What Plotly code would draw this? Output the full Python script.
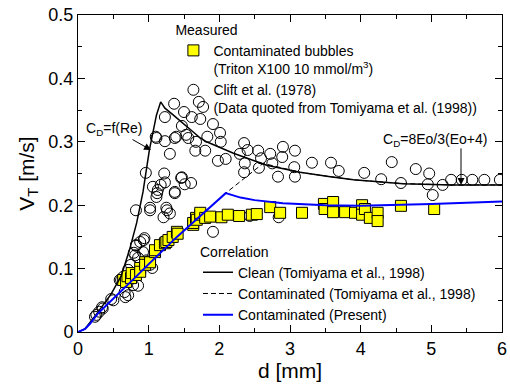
import plotly.graph_objects as go

# ---------------- data ----------------
# Clift et al. (1978) measured terminal velocities (open circles)
clift_d = [0.24, 0.26, 0.30, 0.34, 0.35, 0.47, 0.50, 0.59, 0.61, 0.64, 0.66, 0.67, 0.71, 0.71, 0.75, 0.76,
           0.78, 0.79, 0.81, 0.82, 0.82, 0.85, 0.85, 0.88, 0.92, 0.93, 0.94, 0.97, 0.99, 1.02, 1.05,
           0.82, 0.96, 1.02, 1.02, 1.06, 1.11, 1.12, 1.13, 1.17, 1.21, 1.22, 1.23, 1.25, 1.26, 1.30,
           1.37, 1.37, 1.46, 1.47, 1.51, 1.60, 1.10, 1.11, 1.23, 1.23, 1.30, 1.36, 1.37, 1.39, 1.47,
           1.50, 1.53, 1.56, 1.61, 1.66, 1.67, 1.71, 1.73, 1.77, 1.80, 1.83, 1.91, 1.98, 2.01, 2.02,
           2.09, 2.29, 2.35, 2.35, 2.36, 2.40, 2.43, 2.55, 2.56, 2.59, 2.72, 2.75, 2.83, 2.84, 2.90,
           2.89, 3.07, 3.06, 3.07, 3.31, 3.58, 3.69, 4.05, 4.29, 4.44, 4.57, 4.78, 4.97, 4.95, 5.02,
           5.16, 5.28, 5.43, 5.58, 5.75, 5.97, 1.91]
clift_v = [0.024, 0.027, 0.032, 0.039, 0.037, 0.052, 0.050, 0.082, 0.082, 0.087, 0.063, 0.055, 0.098, 0.058, 0.106, 0.087,
           0.074, 0.125, 0.121, 0.136, 0.137, 0.073, 0.117, 0.142, 0.126, 0.145, 0.148, 0.113, 0.110, 0.106, 0.101,
           0.192, 0.251, 0.192, 0.196, 0.229, 0.213, 0.219, 0.224, 0.232, 0.181, 0.250, 0.236, 0.196, 0.192, 0.187,
           0.219, 0.221, 0.243, 0.244, 0.233, 0.235, 0.308, 0.306, 0.339, 0.301, 0.281, 0.360, 0.306, 0.308, 0.325,
           0.347, 0.311, 0.306, 0.339, 0.286, 0.300, 0.363, 0.336, 0.355, 0.286, 0.308, 0.328, 0.270, 0.314, 0.300,
           0.273, 0.281, 0.298, 0.252, 0.266, 0.287, 0.183, 0.286, 0.259, 0.274, 0.281, 0.266, 0.245, 0.181, 0.292,
           0.276, 0.286, 0.260, 0.245, 0.267, 0.267, 0.254, 0.251, 0.241, 0.268, 0.235, 0.257, 0.250, 0.233, 0.216,
           0.232, 0.240, 0.240, 0.240, 0.240, 0.240, 0.158]

# Contaminated bubbles, Triton X100 10 mmol/m3 (yellow squares)
cont_d = [0.64, 0.68, 0.70, 0.75, 0.76, 0.82, 0.88, 0.88, 0.95, 0.95, 1.02, 1.09, 1.09, 1.16, 1.23, 1.25,
          1.28, 1.34, 1.40, 1.41, 1.63, 1.63, 1.67, 1.68, 1.73, 1.73, 1.80, 1.87, 2.03, 2.12, 2.28, 2.46,
          2.53, 2.72, 2.86, 3.17, 3.48, 3.49, 3.61, 3.61, 3.78, 3.92, 4.02, 4.02, 4.06, 4.13, 4.24, 4.24,
          4.57, 5.04]
cont_v = [0.082, 0.079, 0.088, 0.085, 0.093, 0.090, 0.101, 0.095, 0.110, 0.106, 0.110, 0.126, 0.129, 0.137, 0.140, 0.142,
          0.145, 0.150, 0.158, 0.155, 0.169, 0.172, 0.180, 0.177, 0.185, 0.188, 0.180, 0.182, 0.181, 0.185, 0.183, 0.185,
          0.186, 0.197, 0.188, 0.188, 0.202, 0.194, 0.205, 0.189, 0.189, 0.188, 0.200, 0.185, 0.194, 0.180, 0.188, 0.175,
          0.199, 0.194]

# Correlations
clean_d = [0.0, 0.10, 0.28, 0.47, 0.61, 0.73, 0.83, 0.92, 1.01, 1.11, 1.17, 1.23, 1.35, 1.50, 1.73, 1.82,
           2.20, 2.67, 3.14, 3.57, 3.90, 4.60, 5.30, 6.00]
clean_v = [0.0, 0.005, 0.031, 0.060, 0.088, 0.130, 0.172, 0.221, 0.287, 0.342, 0.363, 0.353, 0.342, 0.328, 0.306, 0.300,
           0.282, 0.263, 0.252, 0.245, 0.240, 0.234, 0.232, 0.232]

tomi_cont_d = [0.0, 0.10, 0.17, 0.28, 0.41, 0.60, 0.80, 1.00, 1.20, 1.40, 1.60, 1.80, 2.00, 2.09, 2.62,
               3.14, 3.57, 3.90, 4.60, 5.30, 6.00]
tomi_cont_v = [0.0, 0.005, 0.013, 0.029, 0.043, 0.063, 0.085, 0.107, 0.129, 0.150, 0.170, 0.190, 0.210, 0.219, 0.266,
               0.252, 0.245, 0.240, 0.234, 0.232, 0.232]

present_d = [0.0, 0.10, 0.17, 0.28, 0.41, 0.60, 0.80, 1.00, 1.20, 1.40, 1.60, 1.80, 2.00, 2.09, 2.30, 2.50,
             2.90, 3.50, 4.00, 4.50, 5.00, 5.50, 6.00]
present_v = [0.0, 0.005, 0.013, 0.029, 0.043, 0.063, 0.085, 0.107, 0.129, 0.150, 0.170, 0.190, 0.210, 0.219, 0.212, 0.208,
             0.203, 0.200, 0.199, 0.200, 0.202, 0.204, 0.206]

x_ticks = [0, 1, 2, 3, 4, 5, 6]
x_tick_labels = ["0", "1", "2", "3", "4", "5", "6"]
y_ticks = [0, 0.1, 0.2, 0.3, 0.4, 0.5]
y_tick_labels = ["0", "0.1", "0.2", "0.3", "0.4", "0.5"]

FONT = "Liberation Sans, Arial, sans-serif"
LS = 14  # legend / annotation text size

fig = go.Figure()

fig.add_trace(go.Scatter(
    x=clift_d, y=clift_v, mode="markers", legend="legend", legendrank=2,
    name="Clift et al. (1978)<br>(Data quoted from Tomiyama et al. (1998))",
    marker=dict(symbol="circle-open", size=11, color="black", line=dict(width=1, color="black"))))

fig.add_trace(go.Scatter(
    x=cont_d, y=cont_v, mode="markers", legend="legend", legendrank=1,
    name="Contaminated bubbles<br>(Triton X100 10 mmol/m<sup>3</sup>)",
    marker=dict(symbol="square", size=11, color="#ffff00", line=dict(width=1, color="black"))))

fig.add_trace(go.Scatter(
    x=tomi_cont_d, y=tomi_cont_v, mode="lines", legend="legend2", legendrank=2,
    name="Contaminated (Tomiyama et al., 1998)",
    line=dict(color="black", width=1, dash="5px,3px")))

fig.add_trace(go.Scatter(
    x=clean_d, y=clean_v, mode="lines", legend="legend2", legendrank=1,
    name="Clean (Tomiyama et al., 1998)",
    line=dict(color="black", width=1.5)))

fig.add_trace(go.Scatter(
    x=present_d, y=present_v, mode="lines", legend="legend2", legendrank=3,
    name="Contaminated (Present)",
    line=dict(color="#0000ff", width=2)))

axis_common = dict(showline=True, linecolor="black", linewidth=1, mirror="ticks",
                   ticks="inside", ticklen=7, tickwidth=1, tickcolor="black", automargin=False,
                   showgrid=False, zeroline=False, tickfont=dict(size=18, color="black"))

fig.update_xaxes(range=[0, 6], tickvals=x_ticks, ticktext=x_tick_labels,
                 minor=dict(dtick=0.5, ticks="inside", ticklen=4, tickcolor="black", showgrid=False),
                 title=dict(text="d [mm]", font=dict(size=21), standoff=2), **axis_common)
fig.update_yaxes(range=[0, 0.5], tickvals=y_ticks, ticktext=y_tick_labels,
                 minor=dict(dtick=0.05, ticks="inside", ticklen=4, tickcolor="black", showgrid=False),
                 title=dict(text="V<sub>T</sub> [m/s]", font=dict(size=21), standoff=8), **axis_common)

legend_common = dict(bgcolor="rgba(0,0,0,0)", borderwidth=0, font=dict(size=LS, color="black"),
                     xanchor="left", yanchor="top", valign="top", tracegroupgap=0)

fig.update_layout(
    width=510, height=385,
    margin=dict(l=78, r=8, t=15, b=53),
    plot_bgcolor="white", paper_bgcolor="white",
    font=dict(family=FONT, color="black"),
    legend=dict(x=0.225, y=0.995, title=dict(text="Measured", font=dict(size=LS)), **legend_common),
    legend2=dict(x=0.283, y=0.295, title=dict(text="Correlation", font=dict(size=LS)), **legend_common),
    annotations=[
        dict(x=1.033, y=0.287, xref="x", yref="y", text="C<sub>D</sub>=f(Re)", showarrow=True,
             ax=-37, ay=-21, arrowhead=2, arrowsize=1.4, arrowwidth=1, arrowcolor="black",
             font=dict(size=LS)),
        dict(x=5.42, y=0.232, xref="x", yref="y", text="", showarrow=True,
             ax=0, ay=-38, arrowhead=2, arrowsize=1.4, arrowwidth=1, arrowcolor="black"),
        dict(x=(435 - 78) / 70.67, y=(332 - 140) / 634, xref="x", yref="y",
             text="C<sub>D</sub>=8Eo/3(Eo+4)", showarrow=False, font=dict(size=LS)),
    ],
)

# remove the default 8px page margin so the 510x385 figure fills the window exactly
fig.write_html("out.html", config={"displayModeBar": False},
               post_script="document.body.style.margin='0px';")
